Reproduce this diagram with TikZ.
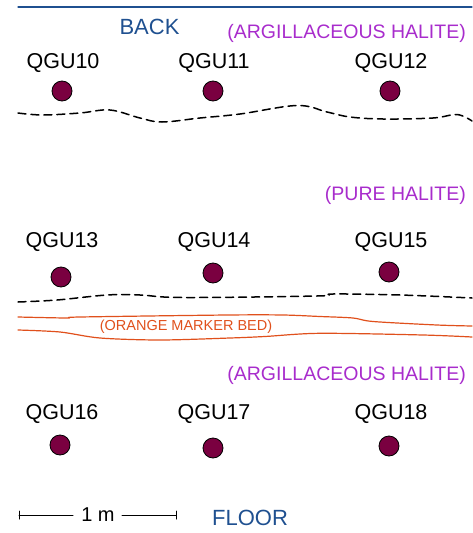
\documentclass[tikz,border=0pt]{standalone}
\usepackage{fontspec}
\setmainfont{Liberation Sans}
\definecolor{backblue}{HTML}{1F5090}
\definecolor{unitpurple}{HTML}{A82CCC}
\definecolor{bedorange}{HTML}{E0501C}
\definecolor{coremaroon}{HTML}{7A0040}
\tikzset{
  corelabel/.style={inner sep=0pt, font=\fontsize{21.5}{24}\selectfont},
  core/.style={circle, draw=black, line width=0.8pt, fill=coremaroon, minimum size=20pt, inner sep=0pt},
  unit/.style={anchor=east, inner sep=0pt, text=unitpurple, font=\fontsize{19.5}{22}\selectfont},
  side/.style={inner sep=0pt, text=backblue, font=\fontsize{22}{24}\selectfont},
  contact/.style={line width=1.5pt, dash pattern=on 8pt off 5pt},
  bed/.style={bedorange, line width=1.2pt}
}
\begin{document}
\begin{tikzpicture}[x=1pt, y=-1pt, line join=round, line cap=round]
	\useasboundingbox (0,0) rectangle (472,533);
	% back and floor
	\coordinate (backL) at (18,7);
	\coordinate (backR) at (472,7);
	\draw[backblue, line width=1.3pt] (backL)--(backR);
	\node[side] (back) at (149.5,27) {BACK};
	\node[side] (floor) at (250,518) {FLOOR};
	% units
	\node[unit] (argtop) at (466,33) {(ARGILLACEOUS HALITE)};
	\node[unit] (pure) at (466,195) {(PURE HALITE)};
	\node[unit] (argbot) at (466,375) {(ARGILLACEOUS HALITE)};
	% core holes
	\foreach \n/\lx/\ly/\cx/\cy in {10/63/63/62/91, 11/214/63/213/91, 12/391/63/390/91,
	                                13/62/242/61/277, 14/214/242/213/273, 15/391/242/389/272,
	                                16/62/414/60/445, 17/214/414/213/448, 18/391/414/389/446}
	{
		\node[corelabel] (l\n) at (\lx,\ly) {QGU\n};
		\node[core] (c\n) at (\cx,\cy) {};
	}
	% contacts
	\draw[contact] plot[smooth, tension=0.6] coordinates {(18,113) (43,115) (80,113) (110,110) (140,118) (162,122)
		(200,118) (240,114) (297,105.5) (327,112) (350,117) (383,119) (433,118) (457,114.5) (472,121)};
	\draw[contact] plot[smooth, tension=0.6] coordinates {(18,302) (57,300) (107,295) (140,295) (183,297.5)
		(317,296) (333,294) (400,295) (472,298)};
	% orange marker bed
	\draw[bed] plot[smooth, tension=0.5] coordinates {(18,317) (67,318) (80,317) (227,315) (283,315)
		(320,316.5) (353,318) (373,321.5) (437,325) (472,326)};
	\draw[bed] plot[smooth, tension=0.5] coordinates {(18,330) (60,332) (100,338) (160,340) (230,338)
		(265,336.5) (320,333.3) (423,335) (472,337)};
	\node[inner sep=0pt, text=bedorange, font=\fontsize{14.5}{16}\selectfont] (marker) at (186,327) {(ORANGE MARKER BED)};
	% scale
	\node[inner sep=0pt, font=\fontsize{20}{22}\selectfont] (metre) at (98,515) {1 m};
	\coordinate (sL) at (19,515);
	\coordinate (sR) at (176,515);
	\draw[line width=1pt] (sL)--(metre.west-|73,0) (sL)++(0,-4)--++(0,8);
	\draw[line width=1pt] (sR)--(metre.east-|122,0) (sR)++(0,-4)--++(0,8);
\end{tikzpicture}
\end{document}
